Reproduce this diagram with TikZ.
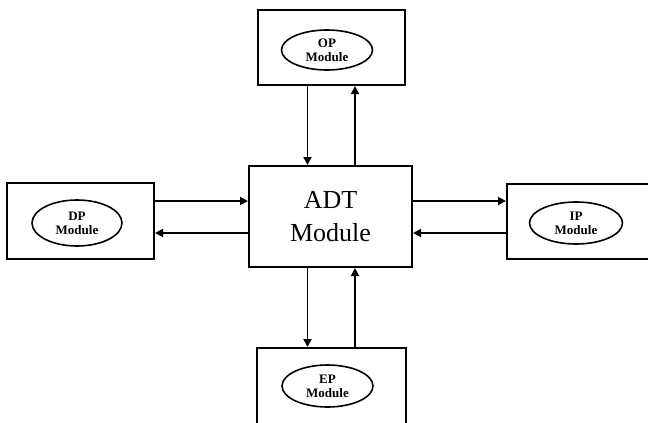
\documentclass[tikz,border=0pt]{standalone}
\usepackage{fontspec}
\setmainfont{Liberation Serif}
\usetikzlibrary{shapes.geometric,arrows.meta}
\tikzset{
  modbox/.style={draw, line width=2pt, rectangle, inner sep=0pt},
  modoval/.style={draw, line width=1.6pt, ellipse, inner sep=0pt, align=center,
    font=\fontsize{13}{14}\selectfont\bfseries},
  arr/.style={line width=1.8pt, -{Triangle[length=8pt,width=8pt]}}
}
\begin{document}
\begin{tikzpicture}[x=1pt,y=-1pt]
\useasboundingbox (0,0) rectangle (648,423);
% central module
\node[modbox, minimum width=163pt, minimum height=101pt, align=center,
  font=\fontsize{26}{33}\selectfont] (adt) at (330.5,216.5) {ADT\\Module};
% surrounding modules
\node[modbox, minimum width=147pt, minimum height=75pt] (op) at (331,47.5) {};
\node[modbox, minimum width=147pt, minimum height=76pt] (dp) at (80.5,221) {};
\node[modbox, minimum width=148pt, minimum height=75pt] (ip) at (581,221.5) {};
\node[modbox, minimum width=149pt, minimum height=82pt] (ep) at (331.5,389) {};
% module ovals
\node[modoval, minimum width=91pt, minimum height=40pt] (opo) at (327,50) {OP\\Module};
\node[modoval, minimum width=90pt, minimum height=46pt] (dpo) at (77,223) {DP\\Module};
\node[modoval, minimum width=93pt, minimum height=42pt] (ipo) at (576,223) {IP\\Module};
\node[modoval, minimum width=91pt, minimum height=42pt] (epo) at (327.5,386) {EP\\Module};
% connector lanes
\coordinate (vl) at (307.5,0);
\coordinate (vr) at (355,0);
\coordinate (hu) at (0,201);
\coordinate (hd) at (0,233);
% connectors
\draw[arr] (op.south -| vl) -- (adt.north -| vl);
\draw[arr] (adt.north -| vr) -- (op.south -| vr);
\draw[arr] (adt.south -| vl) -- (ep.north -| vl);
\draw[arr] (ep.north -| vr) -- (adt.south -| vr);
\draw[arr] (dp.east |- hu) -- (adt.west |- hu);
\draw[arr] (adt.west |- hd) -- (dp.east |- hd);
\draw[arr] (adt.east |- hu) -- (ip.west |- hu);
\draw[arr] (ip.west |- hd) -- (adt.east |- hd);
\end{tikzpicture}
\end{document}
